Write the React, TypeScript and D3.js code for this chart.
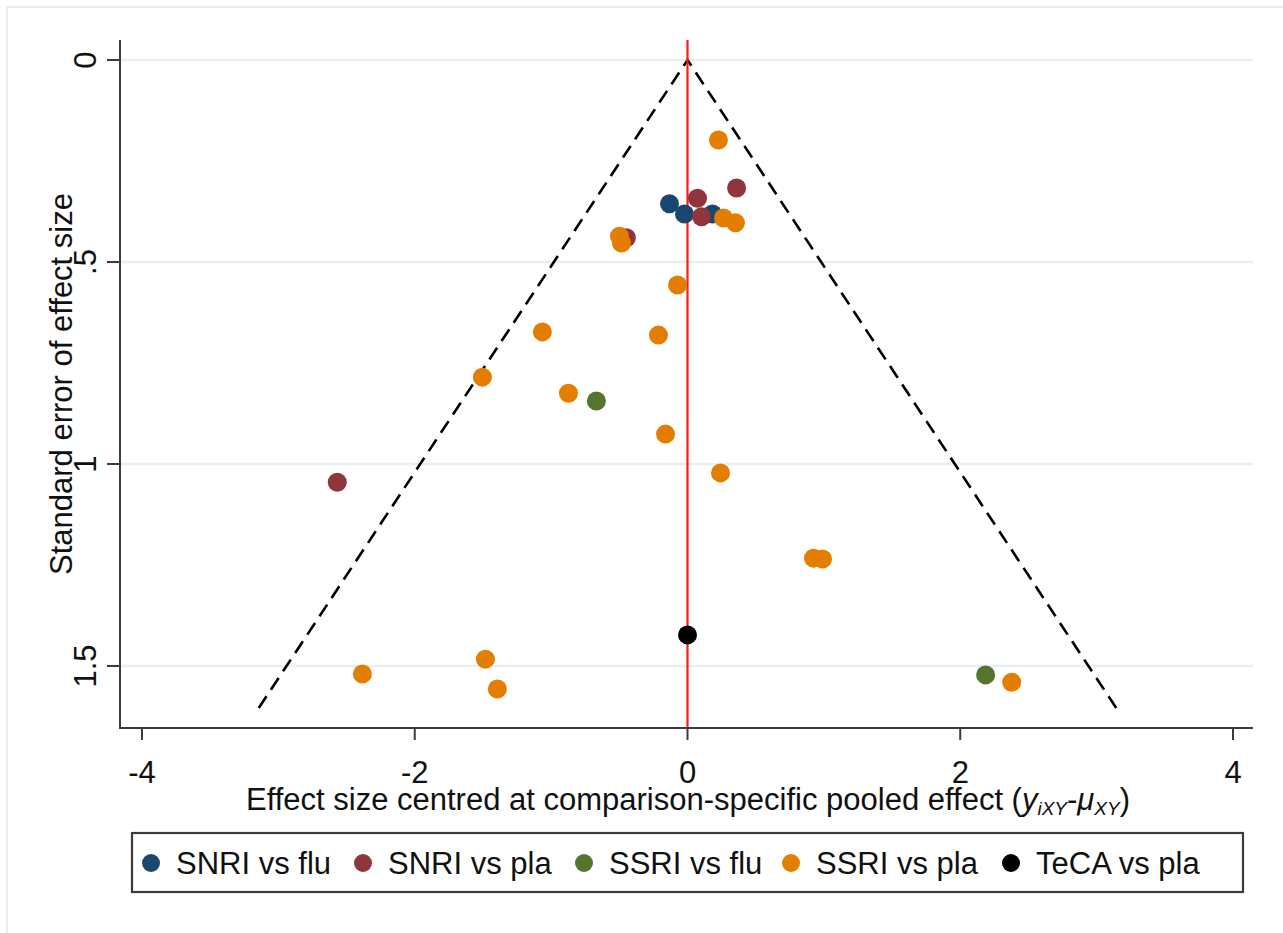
import React from 'react';
import * as d3 from 'd3';

// centred effect size (x) and standard error (y) per comparison
const snriFluX = [-0.132, -0.022, 0.183];
const snriFluY = [0.356, 0.381, 0.381];
const snriPlaX = [0.073, 0.103, 0.36, -0.448, -2.568];
const snriPlaY = [0.342, 0.388, 0.317, 0.44, 1.045];
const ssriFluX = [-0.668, 2.186];
const ssriFluY = [0.844, 1.522];
const ssriPlaX = [0.227, 0.264, 0.352, -0.499, -0.484, -0.073, -1.064, -0.213, -1.504, -0.873, -0.161, 0.242, 0.924, 0.99, 2.377, -2.384, -1.482, -1.394];
const ssriPlaY = [0.198, 0.391, 0.403, 0.436, 0.453, 0.557, 0.673, 0.681, 0.785, 0.825, 0.926, 1.022, 1.233, 1.235, 1.54, 1.52, 1.483, 1.557];
const tecaPlaX = [0];
const tecaPlaY = [1.423];

const seriesNames = ['SNRI vs flu', 'SNRI vs pla', 'SSRI vs flu', 'SSRI vs pla', 'TeCA vs pla'];
const seriesColors = ['#1a476f', '#90353b', '#55752f', '#e37e00', '#000000'];
const xTicks = [-4, -2, 0, 2, 4];
const yTicks = [0, 0.5, 1, 1.5];
const yTickLabels = ['0', '.5', '1', '1.5'];
const seMax = 1.604;

const W = 1283;
const H = 933;
const left = 120, right = 1253, top = 40, bottom = 728;
const font = '"Liberation Sans", Arial, sans-serif';
const fs = 31;

export default function App() {
  const x = d3.scaleLinear().domain([-4, 4]).range([142, 1233]);
  const y = d3.scaleLinear().domain([0, 1.5]).range([60, 666]);

  const series = [
    { xs: snriFluX, ys: snriFluY },
    { xs: snriPlaX, ys: snriPlaY },
    { xs: ssriFluX, ys: ssriFluY },
    { xs: ssriPlaX, ys: ssriPlaY },
    { xs: tecaPlaX, ys: tecaPlaY },
  ];

  const line = d3.line<[number, number]>().x(d => x(d[0])).y(d => y(d[1]));
  const funnel: [number, number][] = [[-1.96 * seMax, seMax], [0, 0], [1.96 * seMax, seMax]];

  // legend key positions
  const legendMarkerX = [151, 363, 584, 791, 1011];

  return (
    <svg width={W} height={H} style={{ position: 'absolute', left: 0, top: 0, background: '#fff' }} fontFamily={font}>
      <rect x={7} y={7} width={W + 20} height={H + 20} fill="none" stroke="#e6eff1" strokeWidth={2} />
      {yTicks.map(t => (
        <line key={t} x1={left} x2={right} y1={y(t)} y2={y(t)} stroke="#e6eff1" strokeWidth={2.5} />
      ))}
      <path d={line(funnel) || ''} fill="none" stroke="#000" strokeWidth={2.6} strokeDasharray="14 8" />
      <line x1={x(0)} x2={x(0)} y1={top} y2={bottom} stroke="#ff1a1a" strokeWidth={2.2} />
      {series.map((s, i) => (
        <g key={i} fill={seriesColors[i]}>
          {s.xs.map((v, j) => (
            <circle key={j} cx={x(v)} cy={y(s.ys[j])} r={9.5} />
          ))}
        </g>
      ))}
      {/* axes */}
      <line x1={left} x2={left} y1={top} y2={bottom + 1} stroke="#3c3c3c" strokeWidth={2} />
      <line x1={left - 1} x2={right} y1={bottom} y2={bottom} stroke="#3c3c3c" strokeWidth={2} />
      {xTicks.map(t => (
        <g key={t}>
          <line x1={x(t)} x2={x(t)} y1={bottom} y2={bottom + 12} stroke="#3c3c3c" strokeWidth={2} />
          <text x={x(t)} y={783} fontSize={fs} textAnchor="middle" fill="#111">{t < 0 ? `-${-t}` : t}</text>
        </g>
      ))}
      {yTicks.map((t, i) => (
        <g key={t}>
          <line x1={left - 13} x2={left} y1={y(t)} y2={y(t)} stroke="#3c3c3c" strokeWidth={2} />
          <text transform={`translate(96,${y(t)}) rotate(-90)`} fontSize={fs} textAnchor="middle" fill="#111">{yTickLabels[i]}</text>
        </g>
      ))}
      <text transform={`translate(72,384) rotate(-90)`} fontSize={fs} textAnchor="middle" fill="#111">Standard error of effect size</text>
      <text x={688} y={810} fontSize={fs} textAnchor="middle" fill="#111">
        Effect size centred at comparison-specific pooled effect (
        <tspan fontStyle="italic">y</tspan>
        <tspan fontStyle="italic" fontSize={19} dy={5}>iXY</tspan>
        <tspan dy={-5}>-</tspan>
        <tspan fontStyle="italic">μ</tspan>
        <tspan fontStyle="italic" fontSize={19} dy={5}>XY</tspan>
        <tspan dy={-5}>)</tspan>
      </text>
      {/* legend */}
      <rect x={132} y={833} width={1111} height={59} fill="#fff" stroke="#3c3c3c" strokeWidth={2.2} />
      {seriesNames.map((n, i) => (
        <g key={n}>
          <circle cx={legendMarkerX[i]} cy={863} r={9} fill={seriesColors[i]} />
          <text x={legendMarkerX[i] + 25} y={874} fontSize={fs} fill="#111">{n}</text>
        </g>
      ))}
    </svg>
  );
}
